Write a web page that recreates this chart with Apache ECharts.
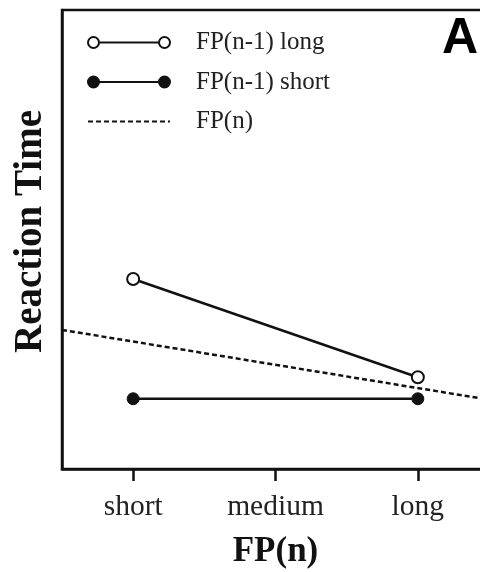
<!DOCTYPE html>
<html>
<head>
<meta charset="utf-8">
<style>html,body{margin:0;padding:0;background:#fff;}#c{width:480px;height:572px;}</style>
<script src="https://cdn.jsdelivr.net/npm/echarts@6/dist/echarts.min.js"></script>
</head>
<body>
<div id="c"></div>
<script>
// ---- data ----
var categories = ['short', 'medium', 'long'];
var prevLong = [41.4, null, 20.0];     // FP(n-1) long
var prevShort = [15.3, null, 15.3];    // FP(n-1) short
var fpTrendX = [0, 1];                 // FP(n) trend line spans the whole plot
var fpTrendY = [30.3, 15.1];
var seriesNames = ['FP(n-1) long', 'FP(n-1) short', 'FP(n)'];

var serif = '"Liberation Serif", "DejaVu Serif", serif';
var ink = '#111';
var iconPath = 'path://M0,5.5A5.5,5.5,0,1,0,11,5.5A5.5,5.5,0,1,0,0,5.5M11,5.5L71,5.5M71,5.5A5.5,5.5,0,1,0,82,5.5A5.5,5.5,0,1,0,71,5.5';

var chart = echarts.init(document.getElementById('c'), null, {renderer: 'canvas'});
chart.setOption({
  animation: false,
  backgroundColor: '#fff',
  title: {
    text: 'A', left: 437, top: 9,
    textStyle: {fontFamily: '"Liberation Sans", Arial, sans-serif', fontWeight: 'bold', fontSize: 50, color: '#000'}
  },
  legend: {
    orient: 'vertical', left: 82, top: 25,
    itemWidth: 82, itemHeight: 11, itemGap: 14.5,
    textStyle: {fontFamily: serif, fontSize: 25, color: '#222', lineHeight: 24, padding: [0, 0, 0, 21]},
    data: [
      {name: seriesNames[0], icon: iconPath, itemStyle: {color: '#fff', borderColor: ink, borderWidth: 2}},
      {name: seriesNames[1], icon: iconPath, itemStyle: {color: ink, borderColor: ink, borderWidth: 2}},
      {name: seriesNames[2], icon: 'inherit', itemStyle: {opacity: 0}}
    ]
  },
  grid: {left: 62, top: 10, right: -9, bottom: 103, show: true, borderColor: ink, borderWidth: 2.5,
         backgroundColor: 'transparent', containLabel: false, outerBoundsMode: 'none'},
  xAxis: [{
    type: 'category', data: categories, boundaryGap: true,
    name: 'FP(n)', nameLocation: 'middle', nameGap: 65,
    nameTextStyle: {fontFamily: serif, fontWeight: 'bold', fontSize: 35, color: '#111'},
    axisLine: {show: true, lineStyle: {color: ink, width: 2.5}},
    axisTick: {show: true, alignWithLabel: true, length: 12, lineStyle: {color: ink, width: 2.5}},
    axisLabel: {fontFamily: serif, fontSize: 29.5, color: '#222', margin: 23},
    splitLine: {show: false}
  }, {
    type: 'value', min: 0, max: 1, show: false
  }],
  yAxis: {
    type: 'value', min: 0, max: 100,
    name: 'Reaction Time', nameLocation: 'middle', nameGap: 12,
    nameTextStyle: {fontFamily: serif, fontWeight: 'bold', fontSize: 39, color: '#111', padding: [0, 0, 0, 16]},
    axisLine: {show: true, lineStyle: {color: ink, width: 2.5}},
    axisTick: {show: false}, axisLabel: {show: false}, splitLine: {show: false}
  },
  series: [{
    name: seriesNames[0], type: 'line', data: prevLong, connectNulls: true,
    symbol: 'circle', symbolSize: 12, showAllSymbol: true,
    lineStyle: {color: ink, width: 2.5},
    itemStyle: {color: '#fff', borderColor: ink, borderWidth: 2},
    z: 3
  }, {
    name: seriesNames[1], type: 'line', data: prevShort, connectNulls: true,
    symbol: 'circle', symbolSize: 12, showAllSymbol: true,
    lineStyle: {color: ink, width: 2.5},
    itemStyle: {color: ink, borderColor: ink, borderWidth: 1},
    z: 3
  }, {
    name: seriesNames[2], type: 'line', xAxisIndex: 1,
    data: fpTrendX.map(function (x, i) { return [x, fpTrendY[i]]; }),
    symbol: 'none', lineStyle: {color: ink, width: 2.5, type: [5, 3]},
    itemStyle: {color: ink}, z: 2
  }]
});
</script>
</body>
</html>
